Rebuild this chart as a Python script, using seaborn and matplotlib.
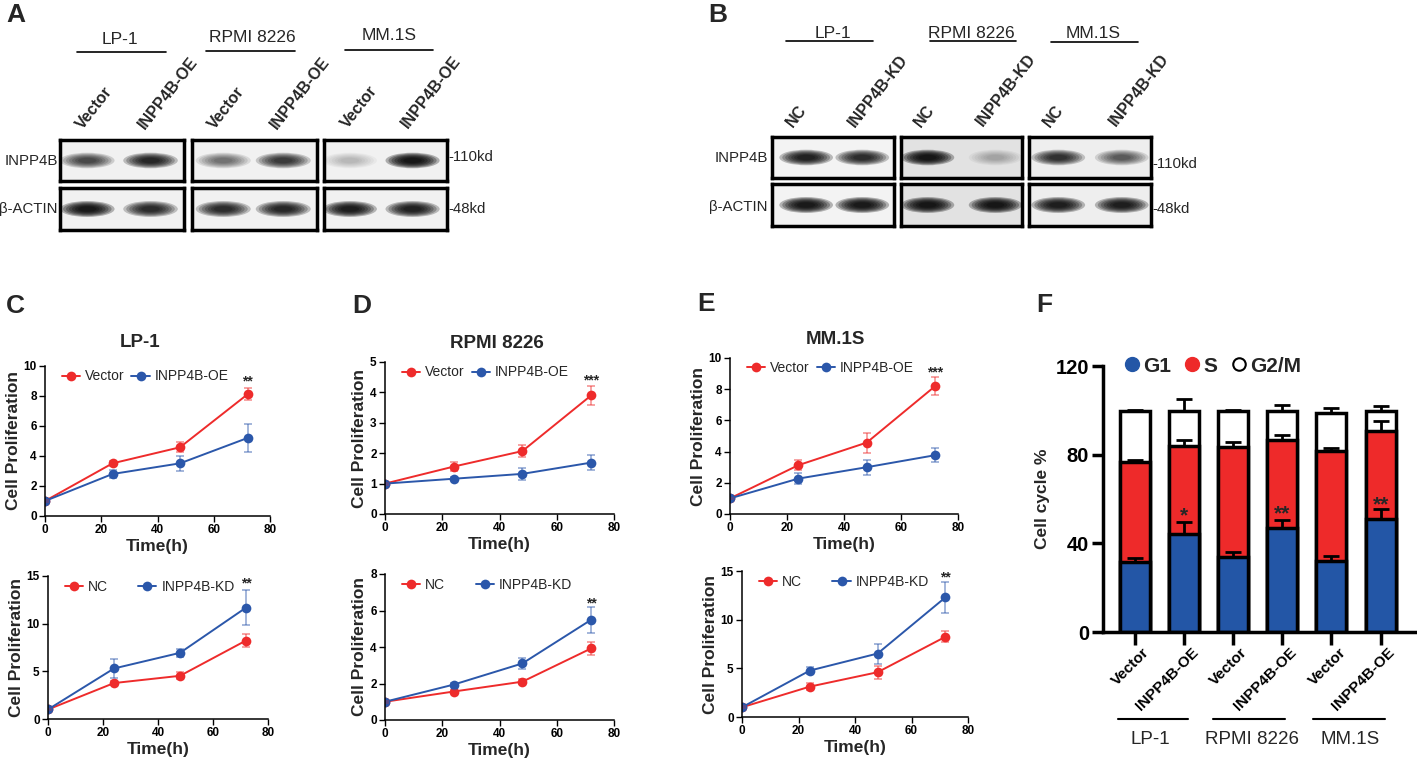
import numpy as np
import pandas as pd
import matplotlib.pyplot as plt
import matplotlib.transforms as mtrans
import seaborn as sns
from matplotlib.patches import Ellipse
from matplotlib.lines import Line2D

# ---------------- data ----------------
hours = [0, 24, 48, 72]

# C: LP-1
lp1_vec = [1.0, 3.51, 4.58, 8.11]
lp1_vec_sd = [0.05, 0.15, 0.33, 0.40]
lp1_oe = [1.0, 2.80, 3.51, 5.20]
lp1_oe_sd = [0.05, 0.27, 0.49, 0.93]
lp1_nc = [1.0, 3.77, 4.53, 8.23]
lp1_nc_sd = [0.1, 0.25, 0.35, 0.67]
lp1_kd = [1.0, 5.30, 6.94, 11.68]
lp1_kd_sd = [0.1, 0.98, 0.42, 1.80]

# D: RPMI 8226
rpmi_vec = [1.0, 1.56, 2.07, 3.90]
rpmi_vec_sd = [0.03, 0.16, 0.20, 0.30]
rpmi_oe = [1.0, 1.16, 1.32, 1.69]
rpmi_oe_sd = [0.03, 0.05, 0.20, 0.24]
rpmi_nc = [1.0, 1.56, 2.10, 3.92]
rpmi_nc_sd = [0.05, 0.10, 0.12, 0.35]
rpmi_kd = [1.0, 1.94, 3.10, 5.49]
rpmi_kd_sd = [0.05, 0.10, 0.29, 0.71]

# E: MM.1S
mm_vec = [1.0, 3.13, 4.58, 8.20]
mm_vec_sd = [0.05, 0.30, 0.64, 0.56]
mm_oe = [1.0, 2.27, 3.00, 3.77]
mm_oe_sd = [0.05, 0.34, 0.47, 0.43]
mm_nc = [1.0, 3.12, 4.60, 8.24]
mm_nc_sd = [0.1, 0.35, 0.65, 0.58]
mm_kd = [1.0, 4.77, 6.52, 12.29]
mm_kd_sd = [0.1, 0.34, 1.03, 1.61]

# F: cell cycle
cc_labels = ["Vector", "INPP4B-OE", "Vector", "INPP4B-OE", "Vector", "INPP4B-OE"]
g1 = [31.8, 44.1, 33.8, 47.0, 32.2, 51.0]
s_phase = [44.7, 39.9, 49.7, 39.4, 49.6, 39.9]
g2m = [23.1, 15.6, 16.1, 13.2, 17.0, 8.7]
g1_err = [1.8, 5.7, 2.4, 3.4, 2.3, 4.3]
s_err = [1.0, 2.5, 2.3, 2.4, 1.3, 4.5]
g2m_err = [0.4, 5.4, 0.4, 2.6, 2.1, 2.4]
cc_stars = ["", "*", "", "**", "", "**"]

# western blot band darkness (0-1), two lanes per cell line
cells = ["LP-1", "RPMI 8226", "MM.1S"]
a_lanes = ["Vector", "INPP4B-OE"]
b_lanes = ["NC", "INPP4B-KD"]
a_inpp4b = [[0.55, 0.8], [0.35, 0.65], [0.12, 1.0]]
a_actin = [[0.95, 0.75], [0.75, 0.8], [0.9, 0.85]]
b_inpp4b = [[0.85, 0.75], [1.0, 0.15], [0.7, 0.45]]
b_actin = [[0.95, 0.95], [1.0, 1.0], [0.9, 0.9]]

# ---------------- style ----------------
sns.set_theme(style="ticks")
plt.rcParams['font.family'] = ['Liberation Sans', 'DejaVu Sans']
plt.rcParams['axes.edgecolor'] = 'black'
plt.rcParams['xtick.color'] = 'black'
plt.rcParams['ytick.color'] = 'black'

RED = '#ee2b2b'
BLUE = '#2b57aa'
BAR_BLUE = '#2356a6'
BAR_RED = '#ee2a2a'

W, H = 1417, 767
fig = plt.figure(figsize=(W / 100, H / 100), dpi=100)


def ax_px(l, t, r, b):
    return fig.add_axes([l / W, 1 - b / H, (r - l) / W, (b - t) / H])


def txt(x, y, s, **kw):
    fig.text(x / W, 1 - y / H, s, **kw)


def hline(x0, x1, y, lw=1.2):
    fig.add_artist(Line2D([x0 / W, x1 / W], [1 - y / H, 1 - y / H],
                          transform=fig.transFigure, color='black', lw=lw))


# ---------------- blots ----------------
def draw_blot(box, darkness, lane_x, bg='#f1f1f1'):
    ax = ax_px(*box)
    ax.set_xlim(0, 1)
    ax.set_ylim(0, 1)
    ax.set_facecolor(bg)
    ax.set_xticks([])
    ax.set_yticks([])
    for sp in ax.spines.values():
        sp.set_linewidth(2.5)
        sp.set_color('black')
    for x, d in zip(lane_x, darkness):
        for k in range(7):
            sc = 1 - k * 0.11
            ax.add_patch(Ellipse((x, 0.5), 0.44 * sc, 0.38 * sc,
                                 color='black', alpha=0.28 * d, lw=0))
    return ax


a_inp_boxes = [(60, 140, 184, 181), (192, 140, 317, 181), (324, 140, 447, 181)]
a_act_boxes = [(60, 188, 184, 230), (192, 188, 317, 230), (324, 188, 447, 230)]
b_inp_boxes = [(772, 137, 894, 178), (901, 137, 1022, 178), (1029, 137, 1151, 178)]
b_act_boxes = [(772, 184, 894, 226), (901, 184, 1022, 226), (1029, 184, 1151, 226)]
a_lane_x = [[0.22, 0.73], [0.25, 0.73], [0.21, 0.72]]
b_lane_x = [[0.28, 0.74], [0.22, 0.78], [0.24, 0.76]]
b_bg = ['#f3f3f3', '#e2e2e2', '#eeeeee']

for i in range(3):
    draw_blot(a_inp_boxes[i], a_inpp4b[i], a_lane_x[i])
    draw_blot(a_act_boxes[i], a_actin[i], a_lane_x[i])
    draw_blot(b_inp_boxes[i], b_inpp4b[i], b_lane_x[i], bg=b_bg[i])
    draw_blot(b_act_boxes[i], b_actin[i], b_lane_x[i], bg=b_bg[i])

# lane labels
a_lab_pos = [[(85, 132), (147, 132)], [(217, 132), (279, 132)], [(350, 131), (410, 131)]]
b_lab_pos = [[(795, 130), (857, 130)], [(923, 130), (985, 129)], [(1052, 130), (1118, 129)]]
for i in range(3):
    for j in range(2):
        x, y = a_lab_pos[i][j]
        txt(x, y, a_lanes[j], rotation=52, rotation_mode='anchor', ha='left', va='bottom',
            fontsize=11.5, fontweight='bold')
        x, y = b_lab_pos[i][j]
        txt(x, y, b_lanes[j], rotation=52, rotation_mode='anchor', ha='left', va='bottom',
            fontsize=11.5, fontweight='bold')

# group headers
a_grp = [(120, 40, 77, 166, 52), (252, 38, 206, 295, 51), (389, 36, 345, 433, 50)]
b_grp = [(833, 33, 786, 873, 41), (971, 33, 930, 1016, 41), (1093, 33, 1051, 1138, 42)]
for (cx, cy, x0, x1, ly), name in zip(a_grp, cells):
    txt(cx, cy, name, ha='center', va='center', fontsize=12.5)
    hline(x0, x1, ly)
for (cx, cy, x0, x1, ly), name in zip(b_grp, cells):
    txt(cx, cy, name, ha='center', va='center', fontsize=12.5)
    hline(x0, x1, ly)

# side labels
side = dict(va='center', fontsize=10.8)
txt(58, 161, "INPP4B", ha='right', **side)
txt(58, 209, "β-ACTIN", ha='right', **side)
txt(448, 157, "-110kd", ha='left', **side)
txt(448, 209, "-48kd", ha='left', **side)
txt(768, 158, "INPP4B", ha='right', **side)
txt(768, 207, "β-ACTIN", ha='right', **side)
txt(1152, 164, "-110kd", ha='left', **side)
txt(1152, 209, "-48kd", ha='left', **side)


# ---------------- proliferation curves ----------------
def prolif(box, names, means, sds, ymax, ystep, star, star_y, colspace):
    ax = ax_px(*box)
    rows = []
    for n, m in zip(names, means):
        for t, v in zip(hours, m):
            rows.append({"Time": t, "Value": v, "Group": n})
    df = pd.DataFrame(rows)
    sns.lineplot(data=df, x="Time", y="Value", hue="Group", hue_order=names,
                 palette=[RED, BLUE], marker='o', markersize=7, markeredgewidth=0,
                 linewidth=1.4, ax=ax)
    for m, sd, c in zip(means, sds, [RED, BLUE]):
        ax.errorbar(hours, m, yerr=sd, fmt='none', ecolor=c, alpha=0.55,
                    capsize=3, elinewidth=1.1, capthick=1.1)
    ax.set_xlim(0, 80)
    ax.set_ylim(0, ymax)
    ax.set_xticks([0, 20, 40, 60, 80])
    ax.set_yticks(np.arange(0, ymax + 0.01, ystep))
    ax.set_xlabel("Time(h)", fontsize=12.5, fontweight='bold', labelpad=2)
    ax.set_ylabel("Cell Proliferation", fontsize=12.5, fontweight='bold', labelpad=2)
    ax.tick_params(labelsize=8.5, length=4, width=1, pad=2)
    for lab in ax.get_xticklabels() + ax.get_yticklabels():
        lab.set_fontweight('bold')
    sns.despine(ax=ax)
    for sp in ax.spines.values():
        sp.set_linewidth(1.1)
    sns.move_legend(ax, 'upper left', bbox_to_anchor=(0.02, 1.06), ncol=2, frameon=False,
                    title=None, fontsize=10, handlelength=1.3,
                    handletextpad=0.35, columnspacing=colspace)
    ax.text(72, star_y, star, ha='center', va='center', fontsize=10, fontweight='bold')
    return ax


prolif((45, 366, 270, 516), ["Vector", "INPP4B-OE"], [lp1_vec, lp1_oe], [lp1_vec_sd, lp1_oe_sd],
       10, 2, "**", 9.0, 0.5)
prolif((48, 576, 268, 719), ["NC", "INPP4B-KD"], [lp1_nc, lp1_kd], [lp1_nc_sd, lp1_kd_sd],
       15, 5, "**", 14.2, 2.2)
prolif((385, 362, 614, 514), ["Vector", "INPP4B-OE"], [rpmi_vec, rpmi_oe], [rpmi_vec_sd, rpmi_oe_sd],
       5, 1, "***", 4.4, 0.5)
prolif((385, 574, 614, 720), ["NC", "INPP4B-KD"], [rpmi_nc, rpmi_kd], [rpmi_nc_sd, rpmi_kd_sd],
       8, 2, "**", 6.4, 2.2)
prolif((730, 358, 958, 514), ["Vector", "INPP4B-OE"], [mm_vec, mm_oe], [mm_vec_sd, mm_oe_sd],
       10, 2, "***", 9.1, 0.5)
prolif((742, 571, 968, 717), ["NC", "INPP4B-KD"], [mm_nc, mm_kd], [mm_nc_sd, mm_kd_sd],
       15, 5, "**", 14.3, 2.2)

txt(140, 342, "LP-1", ha='center', va='center', fontsize=13.5, fontweight='bold')
txt(497, 343, "RPMI 8226", ha='center', va='center', fontsize=13.5, fontweight='bold')
txt(835, 340, "MM.1S", ha='center', va='center', fontsize=13.5, fontweight='bold')

# ---------------- cell cycle stacked bars ----------------
axf = ax_px(1103, 366, 1415, 632)
pos = list(range(len(cc_labels)))
g1s = [a + b for a, b in zip(g1, s_phase)]
total = [a + b for a, b in zip(g1s, g2m)]
cc = pd.DataFrame({"pos": pos, "G1": g1, "G1S": g1s, "Total": total})
sns.barplot(data=cc, x="pos", y="Total", color='white', edgecolor='black', linewidth=2.5,
            width=0.61, saturation=1, ax=axf)
sns.barplot(data=cc, x="pos", y="G1S", color=BAR_RED, edgecolor='black', linewidth=2.5,
            width=0.61, saturation=1, ax=axf)
sns.barplot(data=cc, x="pos", y="G1", color=BAR_BLUE, edgecolor='black', linewidth=2.5,
            width=0.61, saturation=1, ax=axf)
zeros = [0] * len(pos)
for top, err in [(g1, g1_err), (g1s, s_err), (total, g2m_err)]:
    axf.errorbar(pos, top, yerr=[zeros, err], fmt='none', ecolor='black', elinewidth=2,
                 capsize=6, capthick=2, zorder=5)
star_y = [0, 52.5, 0, 53.5, 0, 57.5]
for p, s, y in zip(pos, cc_stars, star_y):
    if s:
        axf.text(p, y, s, ha='center', va='center', fontsize=15, fontweight='bold')
axf.set_xlim(-0.65, 5.7)
axf.set_ylim(0, 120)
axf.set_yticks([0, 40, 80, 120])
axf.set_xticks(pos)
axf.tick_params(axis='y', labelsize=14.5, length=8, width=2.5, pad=2)
axf.tick_params(axis='x', length=9, width=2.5, pad=4)
axf.set_xticklabels(cc_labels, rotation=45, ha='right', va='center', rotation_mode='anchor',
                    fontsize=11, fontweight='bold')
shift = mtrans.ScaledTranslation(12 / 100, 0, fig.dpi_scale_trans)
for lab in axf.get_xticklabels():
    lab.set_transform(lab.get_transform() + shift)
for lab in axf.get_yticklabels():
    lab.set_fontweight('bold')
axf.set_xlabel("")
axf.set_ylabel("Cell cycle %", fontsize=12.5, fontweight='bold', labelpad=4)
sns.despine(ax=axf)
for sp in axf.spines.values():
    sp.set_linewidth(2.5)
handles = [Line2D([], [], ls='', marker='o', markersize=10, markerfacecolor=BAR_BLUE, markeredgecolor=BAR_BLUE),
           Line2D([], [], ls='', marker='o', markersize=10, markerfacecolor=BAR_RED, markeredgecolor=BAR_RED),
           Line2D([], [], ls='', marker='o', markersize=9, markerfacecolor='white', markeredgecolor='black', markeredgewidth=1.5)]
axf.legend(handles, ["G1", "S", "G2/M"], loc='center left', bbox_to_anchor=(0.0, 1.0), ncol=3,
           frameon=False, handletextpad=0.05, columnspacing=0.5, handlelength=1.0,
           prop={'size': 15, 'weight': 'bold'})

f_grp = [(1150, 1118, 1188), (1252, 1213, 1285), (1350, 1313, 1385)]
for (cx, x0, x1), name in zip(f_grp, cells):
    hline(x0, x1, 719, lw=1.5)
    txt(cx, 739, name, ha='center', va='center', fontsize=13.5)

# panel letters
for letter, x, y in [("A", 6, 15), ("B", 708, 15), ("C", 6, 306), ("D", 352, 306),
                     ("E", 697, 304), ("F", 1036, 305)]:
    txt(x, y, letter, ha='left', va='center', fontsize=19, fontweight='bold')

fig.savefig("out.png", dpi=100)
